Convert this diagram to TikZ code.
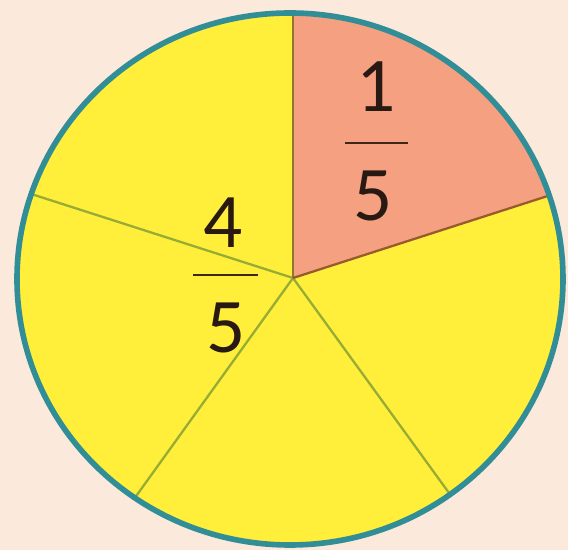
\documentclass[tikz,border=0pt]{standalone}
\usepackage{fontspec}
\setmainfont{Carlito}
\usepackage{tikz}
\usetikzlibrary{positioning}
\definecolor{paper}{RGB}{251,233,220}
\definecolor{rim}{RGB}{50,142,150}
\definecolor{sunny}{RGB}{255,238,58}
\definecolor{salmon}{RGB}{245,160,128}
\definecolor{olive}{RGB}{150,172,52}
\definecolor{rust}{RGB}{150,92,45}
\definecolor{ink}{RGB}{40,26,18}

\begin{document}
\begin{tikzpicture}[
    digit/.style={font=\fontsize{44}{50}\selectfont,text=ink,inner sep=0pt},
    spoke/.style={olive,line width=1.3pt},
    bar/.style={ink!80!rust,line width=1.2pt}]
  \fill[paper] (0,0) rectangle (11.36,11);
  \useasboundingbox (0,0) rectangle (11.36,11);
  \coordinate (mid) at (5.80,5.42);
  \coordinate (hub) at (5.86,5.44);
  \coordinate (top) at (5.86,11.2);
  \coordinate (east) at (11.45,7.24);
  \coordinate (south east) at (9.30,0.70);
  \coordinate (south west) at (2.45,0.70);
  \coordinate (west) at (0.25,7.24);
  \begin{scope}
    \clip (mid) ellipse [x radius=5.46cm, y radius=5.32cm];
    \fill[sunny] (0,0) rectangle (11.36,11);
    \fill[salmon] (hub) -- (top) -- (11.5,11.2) -- (east) -- cycle;
    \foreach \p in {south east,south west,west} \draw[spoke] (hub) -- (\p);
    \draw[spoke,rust!70!olive] (hub) -- (top);
    \draw[spoke,rust] (hub) -- (east);
  \end{scope}
  \draw[rim,line width=3.2pt] (mid) ellipse [x radius=5.46cm, y radius=5.32cm];
  % 1/5
  \node[digit] (one) at (7.52,9.26) {1};
  \coordinate (bar1l) at (6.90,8.14);
  \coordinate (bar1r) at (8.16,8.14);
  \draw[bar] (bar1l) -- (bar1r);
  \node[digit] (five1) at (7.46,7.08) {5};
  % 4/5
  \node[digit] (four) at (4.46,6.54) {4};
  \coordinate (bar4l) at (3.86,5.50);
  \coordinate (bar4r) at (5.16,5.50);
  \draw[bar] (bar4l) -- (bar4r);
  \node[digit] (five4) at (4.52,4.44) {5};
\end{tikzpicture}
\end{document}
